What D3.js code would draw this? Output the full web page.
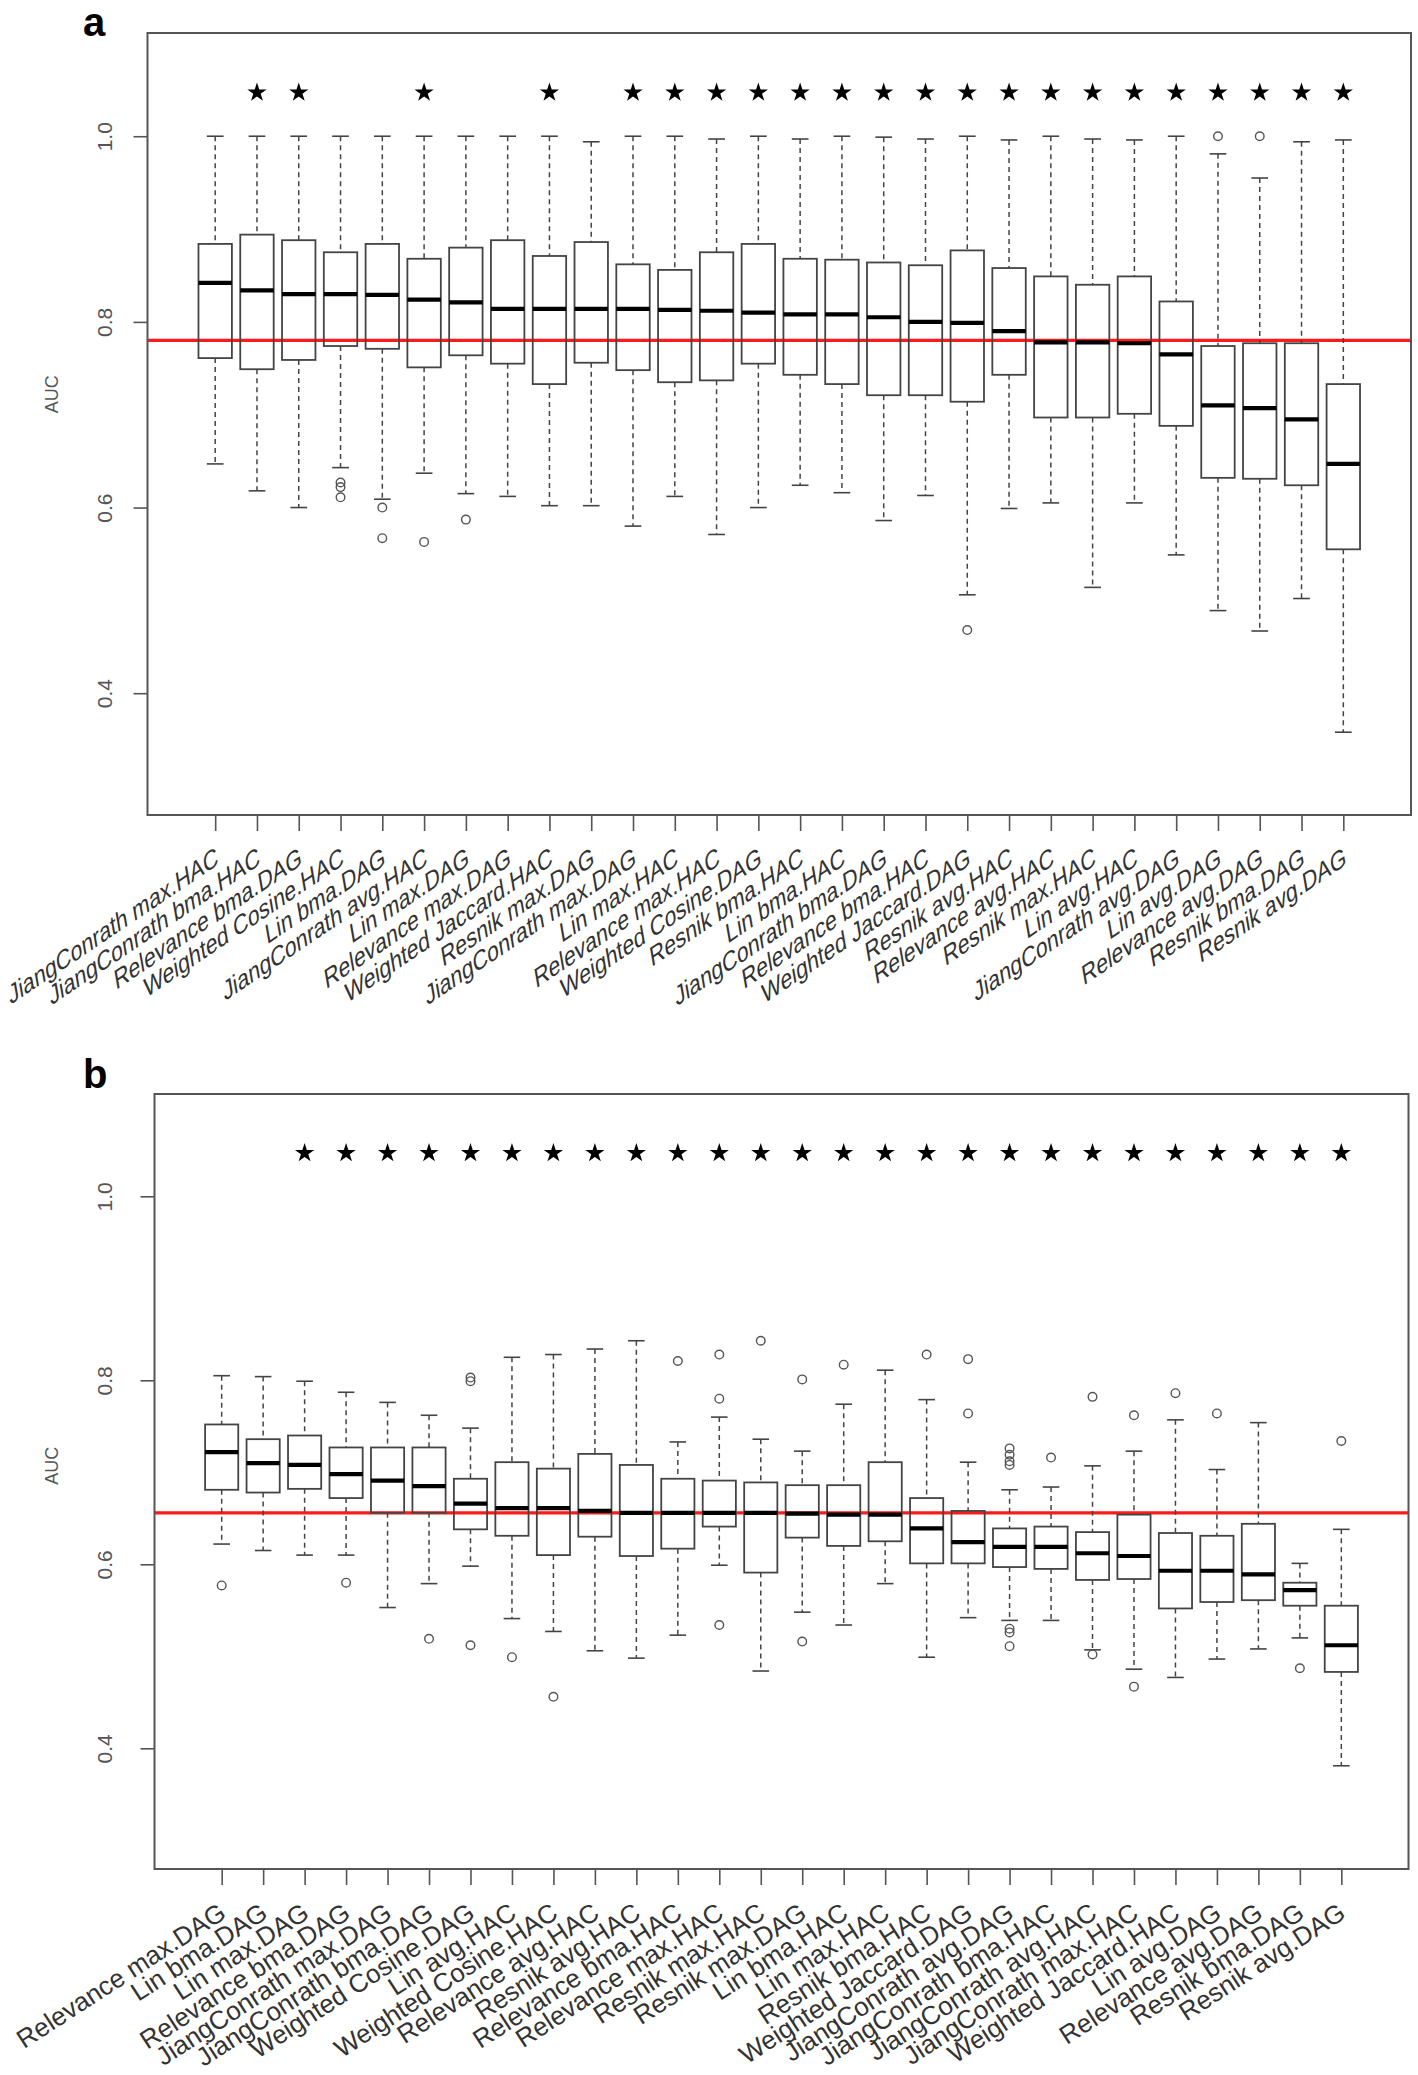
<!DOCTYPE html>
<html>
<head>
<meta charset="utf-8">
<script src="https://cdn.jsdelivr.net/npm/d3@7"></script>
<style>
  html, body { margin: 0; padding: 0; background: #fff; }
  svg { display: block; }
  text { font-family: "Liberation Sans", Arial, Helvetica, sans-serif; }
</style>
</head>
<body>
<svg id="chart" width="1418" height="2075"></svg>
<script>
// ---------------- Panel a data ----------------
const catsA = ["JiangConrath max.HAC","JiangConrath bma.HAC","Relevance bma.DAG","Weighted Cosine.HAC",
  "Lin bma.DAG","JiangConrath avg.HAC","Lin max.DAG","Relevance max.DAG","Weighted Jaccard.HAC",
  "Resnik max.DAG","JiangConrath max.DAG","Lin max.HAC","Relevance max.HAC","Weighted Cosine.DAG",
  "Resnik bma.HAC","Lin bma.HAC","JiangConrath bma.DAG","Relevance bma.HAC","Weighted Jaccard.DAG",
  "Resnik avg.HAC","Relevance avg.HAC","Resnik max.HAC","Lin avg.HAC","JiangConrath avg.DAG",
  "Lin avg.DAG","Relevance avg.DAG","Resnik bma.DAG","Resnik avg.DAG"];
const whiskerLowA  = [0.647,0.618,0.600,0.643,0.609,0.637,0.615,0.612,0.602,0.602,0.580,0.612,0.571,0.600,
  0.624,0.616,0.586,0.613,0.506,0.599,0.605,0.514,0.605,0.549,0.489,0.467,0.502,0.358];
const q1A          = [0.761,0.749,0.759,0.774,0.771,0.751,0.764,0.755,0.733,0.756,0.748,0.735,0.737,0.755,
  0.743,0.733,0.721,0.721,0.714,0.743,0.697,0.697,0.701,0.688,0.632,0.631,0.624,0.555];
const medianA      = [0.842,0.834,0.830,0.830,0.829,0.824,0.821,0.814,0.814,0.814,0.814,0.813,0.812,0.810,
  0.808,0.808,0.805,0.800,0.799,0.790,0.778,0.778,0.777,0.765,0.710,0.707,0.695,0.647];
const q3A          = [0.884,0.894,0.888,0.875,0.884,0.868,0.880,0.888,0.871,0.886,0.862,0.856,0.875,0.884,
  0.868,0.867,0.864,0.861,0.877,0.858,0.849,0.840,0.849,0.822,0.774,0.777,0.777,0.733];
const whiskerHighA = [1.000,1.000,1.000,1.000,1.000,1.000,1.000,1.000,1.000,0.994,1.000,1.000,0.997,1.000,
  0.997,1.000,0.999,0.997,1.000,0.996,1.000,0.997,0.996,1.000,0.981,0.955,0.994,0.996];
const outliersA = [[],[],[],[0.627,0.622,0.611],[0.600,0.567],[0.563],[0.587],[],[],[],[],[],[],[],
  [],[],[],[],[0.468],[],[],[],[],[],[1.000],[1.000],[],[]];
const starsA = [0,1,1,0,0,1,0,0,1,0,1,1,1,1,1,1,1,1,1,1,1,1,1,1,1,1,1,1];
const refA = 0.780;

// ---------------- Panel b data ----------------
const catsB = ["Relevance max.DAG","Lin bma.DAG","Lin max.DAG","Relevance bma.DAG","JiangConrath max.DAG",
  "JiangConrath bma.DAG","Weighted Cosine.DAG","Lin avg.HAC","Weighted Cosine.HAC","Relevance avg.HAC",
  "Resnik avg.HAC","Relevance bma.HAC","Relevance max.HAC","Resnik max.HAC","Resnik max.DAG","Lin bma.HAC",
  "Lin max.HAC","Resnik bma.HAC","Weighted Jaccard.DAG","JiangConrath avg.DAG","JiangConrath bma.HAC",
  "JiangConrath avg.HAC","JiangConrath max.HAC","Weighted Jaccard.HAC","Lin avg.DAG","Relevance avg.DAG",
  "Resnik bma.DAG","Resnik avg.DAG"];
const whiskerLowB  = [0.622,0.615,0.610,0.610,0.553,0.579,0.598,0.541,0.527,0.506,0.498,0.523,0.599,0.484,
  0.548,0.534,0.579,0.499,0.542,0.539,0.539,0.507,0.486,0.477,0.497,0.508,0.520,0.381];
const q1B          = [0.681,0.678,0.682,0.672,0.656,0.656,0.638,0.631,0.610,0.630,0.609,0.617,0.641,0.591,
  0.629,0.620,0.625,0.601,0.601,0.597,0.595,0.583,0.584,0.552,0.559,0.561,0.555,0.483];
const medianB      = [0.722,0.710,0.708,0.698,0.691,0.685,0.666,0.661,0.661,0.658,0.656,0.656,0.656,0.656,
  0.655,0.654,0.654,0.639,0.624,0.619,0.619,0.612,0.609,0.593,0.593,0.589,0.572,0.512];
const q3B          = [0.752,0.736,0.740,0.727,0.727,0.727,0.693,0.711,0.704,0.720,0.708,0.693,0.691,0.689,
  0.686,0.686,0.711,0.672,0.658,0.639,0.641,0.635,0.654,0.634,0.631,0.644,0.580,0.555];
const whiskerHighB = [0.805,0.804,0.799,0.787,0.776,0.762,0.748,0.825,0.828,0.834,0.843,0.733,0.760,0.736,
  0.723,0.774,0.811,0.779,0.711,0.681,0.684,0.707,0.723,0.757,0.703,0.754,0.601,0.638];
const outliersB = [[0.577],[],[],[0.580],[],[0.519],[0.799,0.803,0.512],[0.499],[0.456],[],[],[0.821],
  [0.828,0.780,0.534],[0.843],[0.801,0.516],[0.817],[],[0.828],[0.823,0.764],
  [0.726,0.719,0.712,0.708,0.530,0.526,0.511],[0.716],[0.782,0.502],[0.762,0.467],[0.786],[0.764],[],
  [0.487],[0.734]];
const starsB = [0,0,1,1,1,1,1,1,1,1,1,1,1,1,1,1,1,1,1,1,1,1,1,1,1,1,1,1];
const refB = 0.656;

const yTicks = [0.4, 0.6, 0.8, 1.0];
const yLabel = "AUC";
const yDomain = [0.2688, 1.1112];   // R ylim c(0.3, 1.08) with 4% extension
const starLevel = 1.047;

// ---------------- drawing ----------------
const svg = d3.select("#chart");
svg.append("rect").attr("width", 1418).attr("height", 2075).attr("fill", "#fff");

const panels = [
  { tag: "a", tagX: 83, tagY: 36, left: 147.5, right: 1411, top: 33, bottom: 815,
    cats: catsA, lo: whiskerLowA, q1: q1A, med: medianA, q3: q3A, hi: whiskerHighA,
    out: outliersA, stars: starsA, ref: refA, ylabY: 0.722,
    labelDX: 4, labelY: 864, labelRot: -34, labelSkew: -24, labelSize: 24 },
  { tag: "b", tagX: 83, tagY: 1088, left: 154.5, right: 1408.5, top: 1094, bottom: 1869,
    cats: catsB, lo: whiskerLowB, q1: q1B, med: medianB, q3: q3B, hi: whiskerHighB,
    out: outliersB, stars: starsB, ref: refB, ylabY: 0.707,
    labelDX: 6, labelY: 1917, labelRot: -33, labelSkew: 0, labelSize: 26 }
];

panels.forEach(p => {
  const n = p.cats.length;
  const x = d3.scaleLinear().domain([0.5 - 0.04 * n, n + 0.5 + 0.04 * n]).range([p.left, p.right]);
  const y = d3.scaleLinear().domain(yDomain).range([p.bottom, p.top]);
  const unit = x(1) - x(0);
  const boxW = 0.8 * unit, capW = 0.4 * unit;
  const g = svg.append("g");

  // panel tag
  g.append("text").attr("x", p.tagX).attr("y", p.tagY)
    .attr("font-size", 40).attr("font-weight", "bold").attr("fill", "#000").text(p.tag);

  // y axis
  const yAxis = d3.axisLeft(y).tickValues(yTicks).tickFormat(d3.format(".1f")).tickSize(14).tickPadding(0);
  const ya = g.append("g").attr("transform", `translate(${p.left},0)`).call(yAxis);
  ya.select(".domain").remove();
  ya.selectAll(".tick line").attr("stroke", "#555").attr("stroke-width", 1.6);
  ya.selectAll(".tick text")
    .attr("x", null).attr("dy", null)
    .attr("text-anchor", "middle")
    .attr("font-size", 21).attr("fill", "#555")
    .attr("transform", `translate(${112 - p.left},0) rotate(-90)`);

  // y label
  g.append("text")
    .attr("transform", `translate(57.5,${y(p.ylabY)}) rotate(-90)`)
    .attr("text-anchor", "middle").attr("font-size", 18).attr("fill", "#555").text(yLabel);

  // x axis
  const idx = d3.range(1, n + 1);
  const xAxis = d3.axisBottom(x).tickValues(idx).tickSize(16).tickFormat("");
  const xa = g.append("g").attr("transform", `translate(0,${p.bottom})`).call(xAxis);
  xa.select(".domain").remove();
  xa.selectAll(".tick line").attr("stroke", "#555").attr("stroke-width", 1.6);

  // x labels
  g.append("g").selectAll("text").data(p.cats).join("text")
    .attr("transform", (d, i) => `translate(${x(i + 1) + p.labelDX},${p.labelY}) rotate(${p.labelRot}) skewX(${p.labelSkew})`)
    .attr("text-anchor", "end").attr("font-size", p.labelSize).attr("fill", "#333")
    .text(d => d);

  // reference line
  g.append("line").attr("x1", p.left).attr("x2", p.right)
    .attr("y1", y(p.ref)).attr("y2", y(p.ref))
    .attr("stroke", "#ff1a1a").attr("stroke-width", 3.2);

  // boxes
  const bx = g.append("g").selectAll("g").data(p.cats).join("g")
    .attr("transform", (d, i) => `translate(${x(i + 1)},0)`);
  bx.append("line").attr("y1", (d, i) => y(p.hi[i])).attr("y2", (d, i) => y(p.q3[i]))
    .attr("stroke", "#444").attr("stroke-width", 1.5).attr("stroke-dasharray", "5,4");
  bx.append("line").attr("y1", (d, i) => y(p.q1[i])).attr("y2", (d, i) => y(p.lo[i]))
    .attr("stroke", "#444").attr("stroke-width", 1.5).attr("stroke-dasharray", "5,4");
  bx.append("line").attr("x1", -capW / 2).attr("x2", capW / 2)
    .attr("y1", (d, i) => y(p.hi[i])).attr("y2", (d, i) => y(p.hi[i]))
    .attr("stroke", "#444").attr("stroke-width", 1.6);
  bx.append("line").attr("x1", -capW / 2).attr("x2", capW / 2)
    .attr("y1", (d, i) => y(p.lo[i])).attr("y2", (d, i) => y(p.lo[i]))
    .attr("stroke", "#444").attr("stroke-width", 1.6);
  bx.append("rect").attr("x", -boxW / 2).attr("width", boxW)
    .attr("y", (d, i) => y(p.q3[i])).attr("height", (d, i) => y(p.q1[i]) - y(p.q3[i]))
    .attr("fill", "none").attr("stroke", "#444").attr("stroke-width", 1.8);
  bx.append("line").attr("x1", -boxW / 2).attr("x2", boxW / 2)
    .attr("y1", (d, i) => y(p.med[i])).attr("y2", (d, i) => y(p.med[i]))
    .attr("stroke", "#000").attr("stroke-width", 4.2);
  bx.each(function (d, i) {
    d3.select(this).selectAll("circle").data(p.out[i]).join("circle")
      .attr("cx", 0).attr("cy", v => y(v)).attr("r", 4.3)
      .attr("fill", "none").attr("stroke", "#555").attr("stroke-width", 1.4);
  });

  // significance stars
  const star = d3.symbol().type(d3.symbolStar).size(115);
  g.append("g").selectAll("path").data(p.stars.map((s, i) => ({ s, i })).filter(o => o.s))
    .join("path")
    .attr("transform", o => `translate(${x(o.i + 1)},${y(starLevel)})`)
    .attr("d", star).attr("fill", "#000");

  // frame
  g.append("rect").attr("x", p.left).attr("y", p.top)
    .attr("width", p.right - p.left).attr("height", p.bottom - p.top)
    .attr("fill", "none").attr("stroke", "#555").attr("stroke-width", 2);
});
</script>
</body>
</html>
